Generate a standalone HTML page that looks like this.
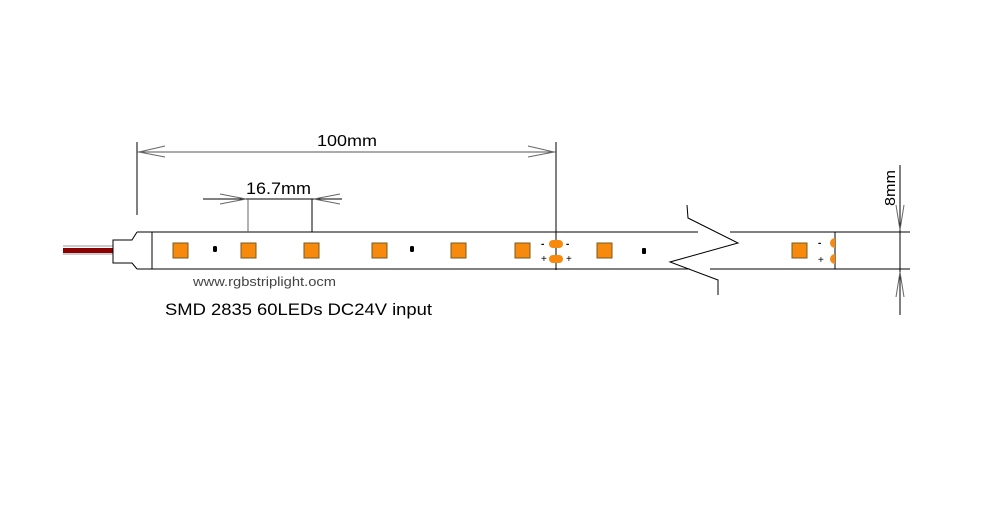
<!DOCTYPE html>
<html><head><meta charset="utf-8"><style>
html,body{margin:0;padding:0;background:#fff}
</style></head><body>
<svg width="1000" height="500" viewBox="0 0 1000 500" xmlns="http://www.w3.org/2000/svg" font-family="Liberation Sans, Arial, sans-serif">
<rect width="1000" height="500" fill="#fff"/>
<line x1="63" y1="246" x2="113" y2="246" stroke="#999" stroke-width="1"/>
<rect x="63" y="248" width="50" height="5" fill="#8b0000"/>
<line x1="63" y1="254" x2="113" y2="254" stroke="#999" stroke-width="1"/>
<path d="M137 232 L132 240 L113 240 L113 263 L132 263 L137 269" fill="none" stroke="#000" stroke-width="1"/>
<g stroke="#000" stroke-width="1" fill="none">
<line x1="137" y1="232" x2="698" y2="232"/>
<line x1="730" y1="232" x2="910" y2="232"/>
<line x1="137" y1="269" x2="690" y2="269"/>
<line x1="710" y1="269" x2="910" y2="269"/>
<line x1="152" y1="232" x2="152" y2="269"/>
<line x1="835" y1="232" x2="835" y2="269"/>
<polyline points="687,205 688,218 738,243 670,262 718,280 718,295"/>
<line x1="137" y1="142" x2="137" y2="215"/>
<line x1="556" y1="142" x2="556" y2="270"/>
<line x1="137" y1="152" x2="556" y2="152" stroke="#555"/>
<polyline points="165,146 139,152 165,157" stroke="#666"/>
<polyline points="528,146 554,152 528,157" stroke="#666"/>
<line x1="203" y1="199" x2="342" y2="199"/>
<line x1="248" y1="199" x2="248" y2="232" stroke="#666"/>
<line x1="312" y1="199" x2="312" y2="232"/>
<polyline points="220,194 246,199 220,204" stroke="#666"/>
<polyline points="340,194 314,199 340,204" stroke="#666"/>
<line x1="900" y1="165" x2="900" y2="315"/>
<polyline points="896,205 900,230 904,205" stroke="#666"/>
<polyline points="896,297 900,272 904,297" stroke="#666"/>
</g>
<g fill="#f7890d" stroke="#7a5a20" stroke-width="1">
<rect x="173" y="243" width="15" height="15"/>
<rect x="241" y="243" width="15" height="15"/>
<rect x="304" y="243" width="15" height="15"/>
<rect x="372" y="243" width="15" height="15"/>
<rect x="451" y="243" width="15" height="15"/>
<rect x="515" y="243" width="15" height="15"/>
<rect x="597" y="243" width="15" height="15"/>
<rect x="792" y="243" width="15" height="15"/>
</g>
<g fill="#000">
<rect x="213" y="246" width="4" height="6" rx="1.5"/>
<rect x="410" y="246" width="4" height="6" rx="1.5"/>
<rect x="642" y="248" width="4" height="6" rx="1"/>
</g>
<g fill="#f7890d">
<rect x="549" y="240" width="14" height="8" rx="4"/>
<rect x="549" y="255" width="14" height="8" rx="4"/>
<path d="M835 238 A5 5 0 0 0 835 248 Z"/>
<path d="M835 254 A5 5 0 0 0 835 264 Z"/>
</g>
<g font-size="10" fill="#000">
<text x="541" y="247" font-weight="bold">-</text><text x="566" y="247" font-weight="bold">-</text>
<text x="541" y="262">+</text><text x="566" y="262">+</text>
<text x="818" y="246" font-weight="bold">-</text>
<text x="818" y="263">+</text>
</g>
<text x="317" y="146" font-size="16" textLength="60" lengthAdjust="spacingAndGlyphs">100mm</text>
<text x="246" y="194" font-size="17" textLength="65" lengthAdjust="spacingAndGlyphs">16.7mm</text>
<text transform="translate(895,206) rotate(-90)" font-size="15" textLength="36" lengthAdjust="spacingAndGlyphs">8mm</text>
<text x="193" y="286" font-size="13" fill="#444" textLength="143" lengthAdjust="spacingAndGlyphs">www.rgbstriplight.ocm</text>
<text x="165" y="315" font-size="17" fill="#000" textLength="267" lengthAdjust="spacingAndGlyphs">SMD 2835 60LEDs DC24V input</text>
</svg>
</body></html>
